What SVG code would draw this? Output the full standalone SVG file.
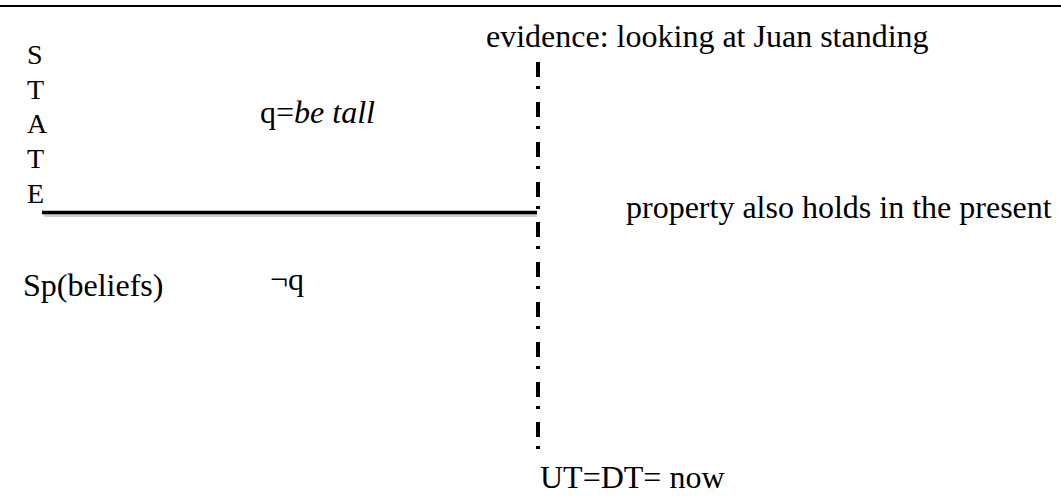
<svg xmlns="http://www.w3.org/2000/svg" width="1061" height="496" viewBox="0 0 1061 496">
<style>
  text { font-family: "Liberation Serif", "Times New Roman", serif; fill: #000; }
  .lbl { font-size: 32px; }
  .state { font-size: 28px; }
  .it { font-style: italic; }
  .axis { stroke: #000; stroke-width: 3.5; fill: none; }
  .shadow { stroke: #000; stroke-opacity: 0.18; stroke-width: 3; fill: none; }
  .now { stroke: #000; stroke-width: 4; fill: none; stroke-dasharray: 15 9 3 13; }
</style>
<rect width="1061" height="496" fill="#fff"/>
<line x1="0" y1="6" x2="1061" y2="6" stroke="#000" stroke-width="2"/>
<g id="connectors">
  <line class="shadow" x1="44" y1="215.5" x2="537" y2="215.5"/>
  <line id="state-line" class="axis" x1="42" y1="212.5" x2="537" y2="212.5"/>
  <line id="now-line" class="now" x1="538" y1="62" x2="538" y2="450"/>
</g>
<g id="state-label">
  <text class="state" x="27" y="64">S</text>
  <text class="state" x="27" y="99">T</text>
  <text class="state" x="27" y="133">A</text>
  <text class="state" x="27" y="168">T</text>
  <text class="state" x="27" y="203">E</text>
</g>
<g id="evidence"><text class="lbl" x="486" y="47">evidence: looking at Juan standing</text></g>
<g id="q"><text class="lbl" x="260" y="123">q=<tspan class="it">be tall</tspan></text></g>
<g id="property"><text class="lbl" x="626" y="218">property also holds in the present</text></g>
<g id="speaker"><text class="lbl" x="23" y="296">Sp(beliefs)</text></g>
<g id="not-q"><text class="lbl" x="270" y="290">¬q</text></g>
<g id="now"><text class="lbl" x="540" y="488">UT=DT= now</text></g>
</svg>
